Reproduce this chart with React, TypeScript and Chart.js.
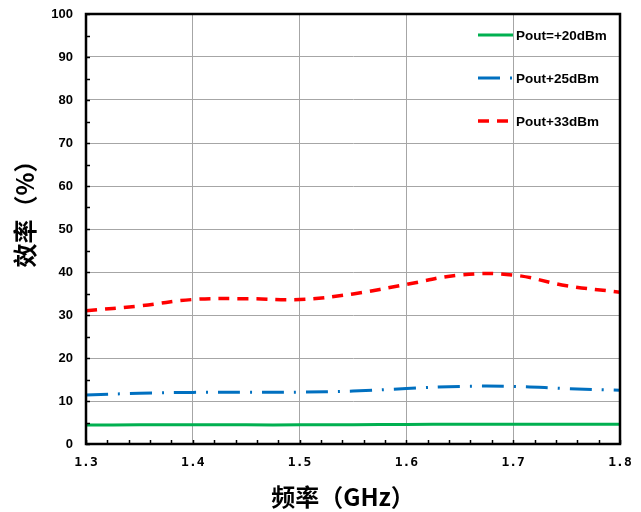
import React, { useEffect, useRef } from 'react';
import { Chart, registerables } from 'chart.js';

Chart.register(...registerables);

const frequencies = [1.3, 1.35, 1.4, 1.45, 1.5, 1.55, 1.6, 1.65, 1.7, 1.75, 1.8];
const effPout20 = [4.4, 4.45, 4.45, 4.45, 4.45, 4.5, 4.55, 4.6, 4.6, 4.6, 4.6];
const effPout25 = [11.4, 11.8, 12.0, 12.05, 12.05, 12.3, 12.9, 13.4, 13.4, 12.9, 12.5];
const effPout33 = [31.0, 32.1, 33.6, 33.8, 33.6, 34.9, 37.1, 39.3, 39.3, 36.8, 35.3];
const seriesLabels = ['Pout=+20dBm', 'Pout+25dBm', 'Pout+33dBm'];
const seriesColors = ['#00b050', '#0070c0', '#ff0000'];
const seriesDashes = [[], [22, 10, 2, 10], [11, 8]];
const xTitle = '频率（GHz）';
const yTitle = '效率（%）';
const xMin = 1.3;
const xMax = 1.8;
const yMin = 0;
const yMax = 100;

const framePlugin = {
  id: 'frameAndMinor',
  afterDatasetsDraw(chart: any) {
    const { ctx, chartArea, scales } = chart;
    const { left, right, top, bottom } = chartArea;
    ctx.save();
    ctx.strokeStyle = '#000';
    ctx.lineWidth = 1.5;
    for (let v = yMin; v <= yMax; v += 5) {
      const y = Math.round(scales.y.getPixelForValue(v)) + 0.5;
      ctx.beginPath();
      ctx.moveTo(left, y);
      ctx.lineTo(left + 4, y);
      ctx.stroke();
    }
    for (let i = 0; i <= 25; i++) {
      const v = xMin + i * 0.02;
      const x = Math.round(scales.x.getPixelForValue(v)) + 0.5;
      ctx.beginPath();
      ctx.moveTo(x, bottom);
      ctx.lineTo(x, bottom - 4);
      ctx.stroke();
    }
    ctx.lineWidth = 2.5;
    ctx.strokeRect(left, top, right - left, bottom - top);
    ctx.restore();

    ctx.save();
    chart.data.datasets.forEach((ds: any, i: number) => {
      const y = 35 + i * 43;
      ctx.beginPath();
      ctx.strokeStyle = ds.borderColor;
      ctx.lineWidth = ds.borderWidth;
      ctx.setLineDash(ds.borderDash || []);
      ctx.moveTo(478, y);
      ctx.lineTo(513, y);
      ctx.stroke();
      ctx.setLineDash([]);
      ctx.fillStyle = '#000';
      ctx.font = 'bold 13.5px "Liberation Sans", Arial, sans-serif';
      ctx.textBaseline = 'middle';
      ctx.textAlign = 'left';
      ctx.fillText(ds.label, 516, y + 1);
    });
    ctx.restore();

    ctx.save();
    ctx.fillStyle = '#000';
    ctx.font = 'bold 24px "Noto Sans CJK SC", sans-serif';
    ctx.textAlign = 'center';
    ctx.textBaseline = 'middle';
    ctx.fillText(xTitle, 343, 497);
    ctx.translate(25, 208);
    ctx.rotate(-Math.PI / 2);
    ctx.fillText(yTitle, 0, 0);
    ctx.restore();
  },
};

export default function App() {
  const canvasRef = useRef<HTMLCanvasElement | null>(null);

  useEffect(() => {
    document.body.style.margin = '0';
    const canvas = canvasRef.current;
    if (!canvas) return;
    const mk = (vals: number[]) => frequencies.map((f, i) => ({ x: f, y: vals[i] }));
    const allSeries = [effPout20, effPout25, effPout33];
    const chart = new Chart(canvas, {
      type: 'line',
      data: {
        datasets: allSeries.map((vals, i) => ({
          label: seriesLabels[i],
          data: mk(vals),
          borderColor: seriesColors[i],
          backgroundColor: seriesColors[i],
          borderWidth: i === 2 ? 3.5 : 3,
          borderDash: seriesDashes[i],
          pointRadius: 0,
          tension: 0.4,
          fill: false,
        })),
      },
      options: {
        animation: false,
        responsive: false,
        maintainAspectRatio: false,
        layout: { padding: { top: 14, right: 21, left: 0, bottom: 0 } },
        plugins: {
          legend: { display: false },
          tooltip: { enabled: false },
        },
        scales: {
          x: {
            type: 'linear',
            min: xMin,
            max: xMax,
            afterFit: (s: any) => { s.height = 68; s.paddingLeft = 0; s.paddingRight = 0; },
            ticks: {
              stepSize: 0.1,
              padding: 11,
              color: '#000',
              font: { family: '"DejaVu Sans Mono"', weight: 'bold', size: 13 },
              callback: (v: any) => Number(v).toFixed(1),
            },
            grid: { color: '#a6a6a6', lineWidth: 1, drawTicks: false },
            border: { display: true, color: '#000', width: 2 },
          },
          y: {
            min: yMin,
            max: yMax,
            afterFit: (s: any) => { s.width = 86; s.paddingTop = 0; s.paddingBottom = 0; },
            ticks: {
              stepSize: 10,
              padding: 13,
              color: '#000',
              font: { family: '"Liberation Sans"', weight: 'bold', size: 13 },
            },
            grid: { color: '#a6a6a6', lineWidth: 1, drawTicks: false },
            border: { display: true, color: '#000', width: 2 },
          },
        },
      },
      plugins: [framePlugin],
    });
    return () => chart.destroy();
  }, []);

  return (
    <div style={{ width: 641, height: 512 }}>
      <canvas ref={canvasRef} width={641} height={512} style={{ display: 'block' }} />
    </div>
  );
}
